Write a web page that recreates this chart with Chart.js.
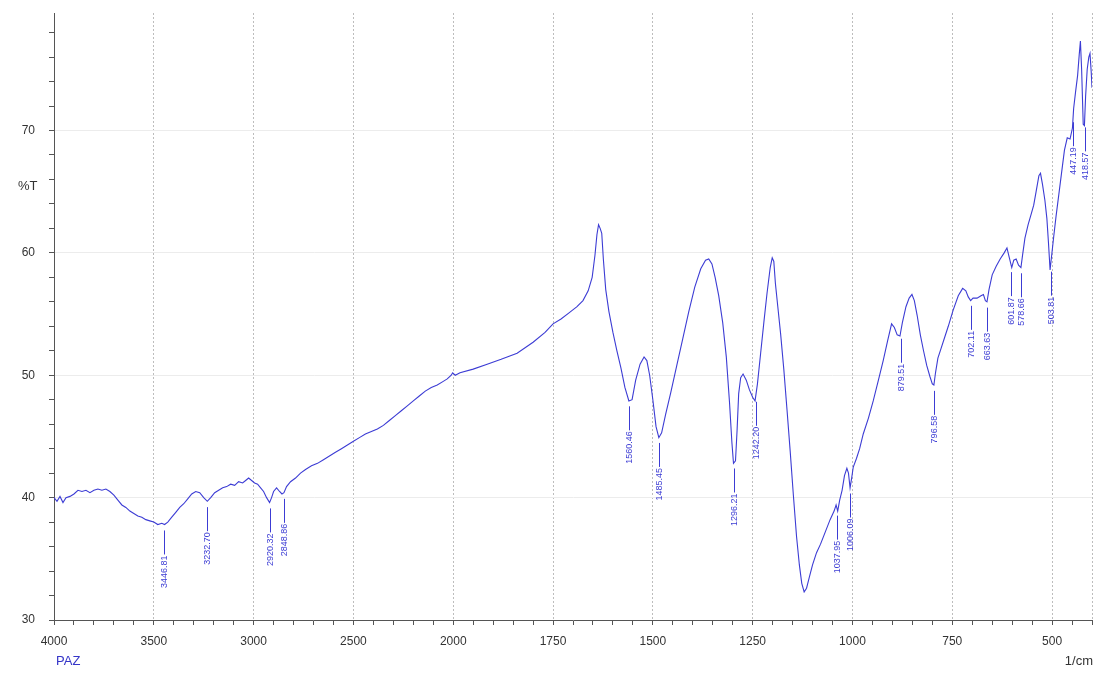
<!DOCTYPE html>
<html>
<head>
<meta charset="utf-8">
<script src="https://cdn.jsdelivr.net/npm/chart.js@4/dist/chart.umd.min.js"></script>
<style>
html,body{margin:0;padding:0;background:#fff;}
#wrap{width:1104px;height:677px;}
</style>
</head>
<body>
<div id="wrap"><canvas id="c" width="1104" height="677"></canvas></div>
<script>
// Wavenumbers (1/cm) and transmittance (%T)
const wavenumbers = [4000,3985,3970,3955,3940,3920,3900,3880,3860,3840,3820,3800,3780,3760,3740,3720,3700,3680,3660,3640,3620,3600,3580,3560,3540,3520,3500,3480,3460,3446,3430,3410,3390,3370,3350,3330,3310,3290,3270,3250,3232,3215,3195,3175,3155,3135,3115,3095,3075,3055,3040,3025,3010,2995,2980,2965,2950,2935,2920,2910,2900,2885,2870,2858,2848,2835,2815,2790,2765,2740,2710,2680,2650,2620,2590,2560,2530,2500,2470,2440,2410,2380,2350,2320,2290,2260,2230,2200,2170,2140,2110,2080,2050,2030,2010,2003,1995,1983,1950,1915,1880,1840,1800,1770,1750,1730,1710,1690,1675,1662,1652,1645,1640,1636,1632,1628,1624,1618,1610,1600,1590,1580,1570,1560,1552,1543,1532,1522,1515,1508,1500,1492,1485,1478,1468,1455,1440,1425,1410,1395,1380,1368,1360,1352,1344,1335,1325,1316,1308,1302,1298,1293,1289,1285,1280,1274,1266,1258,1250,1244,1238,1230,1222,1214,1206,1201,1197,1193,1187,1180,1172,1164,1156,1148,1140,1133,1127,1121,1115,1108,1100,1090,1080,1068,1056,1046,1041,1037,1032,1026,1020,1014,1010,1006,1002,998,990,982,973,960,948,935,923,912,902,895,888,881,875,866,858,851,845,838,830,822,814,806,800,796,792,786,778,770,760,748,735,724,716,710,704,698,688,678,672,667,663,658,650,640,630,620,613,607,601,596,590,584,578,574,568,560,552,546,540,533,529,524,518,513,509,505,501,496,490,483,476,469,462,455,449,446,441,436,432,429,426,422,419,416,412,408,405,402,400];
const transmittance = [40.0,39.7,40.1,39.6,40.0,40.1,40.3,40.6,40.5,40.6,40.4,40.6,40.7,40.6,40.7,40.5,40.2,39.8,39.4,39.2,38.9,38.7,38.5,38.4,38.2,38.1,38.0,37.8,37.9,37.8,38.0,38.4,38.8,39.2,39.5,39.9,40.3,40.5,40.4,40.0,39.7,40.0,40.4,40.6,40.8,40.9,41.1,41.0,41.3,41.2,41.4,41.6,41.4,41.2,41.1,40.8,40.5,40.0,39.6,40.0,40.5,40.8,40.5,40.3,40.4,40.9,41.3,41.6,42.0,42.3,42.6,42.8,43.1,43.4,43.7,44.0,44.3,44.6,44.9,45.2,45.4,45.6,45.9,46.3,46.7,47.1,47.5,47.9,48.3,48.7,49.0,49.2,49.5,49.7,50.0,50.2,50.0,50.2,50.5,50.9,51.3,51.8,52.7,53.5,54.2,54.6,55.1,55.6,56.1,56.9,58.0,59.8,61.5,62.3,62.0,61.6,59.5,57.0,55.2,53.5,52.0,50.6,49.0,47.9,48.0,49.6,50.9,51.5,51.2,50.0,48.0,45.8,44.9,45.3,46.8,48.6,50.8,53.0,55.2,57.2,58.7,59.4,59.5,59.1,58.0,56.5,54.3,51.5,47.8,44.5,42.8,43.0,45.5,48.5,49.8,50.1,49.6,48.8,48.2,47.9,49.3,51.8,54.3,56.7,58.8,59.6,59.3,57.5,55.6,53.4,50.5,47.2,43.8,40.2,36.8,34.5,33.0,32.3,32.6,33.5,34.5,35.5,36.2,37.2,38.2,38.9,39.4,38.9,39.8,40.6,41.8,42.4,42.0,40.8,41.6,42.5,43.2,44.0,45.2,46.5,47.9,49.6,51.2,52.8,54.2,53.9,53.3,53.2,54.3,55.6,56.3,56.6,56.1,54.9,53.3,52.0,50.8,49.9,49.3,49.2,50.2,51.4,52.2,53.0,54.0,55.3,56.5,57.1,56.9,56.4,56.1,56.3,56.3,56.5,56.6,56.1,56.0,57.0,58.2,58.9,59.5,60.0,60.4,59.6,58.8,59.4,59.5,59.0,58.8,59.8,61.2,62.3,63.2,63.9,65.0,66.3,66.5,65.6,64.3,62.8,60.8,58.6,59.8,61.3,63.0,64.8,66.6,68.4,69.4,69.3,70.2,71.8,73.2,74.5,76.2,77.3,75.0,70.5,70.4,72.8,75.0,76.0,76.3,74.8,73.5];

const xTickLabels = ['4000','3500','3000','2500','2000','1750','1500','1250','1000','750','500'];
const yTickLabels = ['30','40','50','60','70'];

const peakWavenumbers = [3446.81,3232.70,2920.32,2848.86,1560.46,1485.45,1296.21,1242.20,1037.95,1006.09,879.51,796.58,702.11,663.63,601.87,578.66,503.81,447.19,418.57];
const peakLabels = ['3446.81','3232.70','2920.32','2848.86','1560.46','1485.45','1296.21','1242.20','1037.95','1006.09','879.51','796.58','702.11','663.63','601.87','578.66','503.81','447.19','418.57'];

// Instrument axis: 4000-2000 at 500 per division, 2000-400 at 250 per division
function toAxis(w){ return w >= 2000 ? (4000 - w) / 500 : 4 + (2000 - w) / 250; }
function interpT(w){
  for (let i = 0; i < wavenumbers.length - 1; i++){
    const a = wavenumbers[i], b = wavenumbers[i+1];
    if (w <= a && w >= b){
      const t = (a - w) / (a - b);
      return transmittance[i] + t * (transmittance[i+1] - transmittance[i]);
    }
  }
  return transmittance[transmittance.length-1];
}

const points = wavenumbers.map((w,i)=>({x: toAxis(w), y: transmittance[i]}));
const AXIS_MAX = toAxis(400);
const FONT = '"Liberation Sans Narrow","Arial Narrow","Liberation Sans",Arial,sans-serif';
const LINE = '#3c3cd4';

const isInt = v => Math.abs(v - Math.round(v)) < 1e-6;

const peakPlugin = {
  id: 'peaks',
  afterDatasetsDraw(chart){
    const ctx = chart.ctx, xs = chart.scales.x, ys = chart.scales.y;
    ctx.save();
    ctx.strokeStyle = LINE;
    ctx.fillStyle = LINE;
    ctx.lineWidth = 1;
    ctx.font = '9px ' + FONT;
    peakWavenumbers.forEach((w,i)=>{
      const px = Math.round(xs.getPixelForValue(toAxis(w))) + 0.5;
      const py = ys.getPixelForValue(interpT(w));
      const y0 = py + 6, y1 = py + 30;
      ctx.beginPath(); ctx.moveTo(px, y0); ctx.lineTo(px, y1); ctx.stroke();
      ctx.save();
      ctx.translate(px, y1 + 1);
      ctx.rotate(-Math.PI/2);
      ctx.textAlign = 'right';
      ctx.textBaseline = 'middle';
      ctx.fillText(peakLabels[i], 0, 0);
      ctx.restore();
    });
    ctx.restore();
  },
  afterDraw(chart){
    const ctx = chart.ctx, xs = chart.scales.x, ys = chart.scales.y;
    ctx.save();
    ctx.font = '13px ' + FONT;
    ctx.fillStyle = '#333';
    ctx.textAlign = 'left';
    ctx.textBaseline = 'middle';
    ctx.fillText('%T', 18, ys.getPixelForValue(65.4));
    ctx.textAlign = 'right';
    ctx.fillText('1/cm', chart.chartArea.right + 1, 661);
    ctx.fillStyle = '#3535c8';
    ctx.textAlign = 'left';
    ctx.fillText('PAZ', xs.getPixelForValue(0) + 2, 661);
    ctx.restore();
  }
};

new Chart(document.getElementById('c'), {
  type: 'line',
  data: { datasets: [{
    data: points,
    borderColor: LINE,
    borderWidth: 1.1,
    pointRadius: 0,
    tension: 0,
    fill: false
  }]},
  options: {
    responsive: false,
    animation: false,
    layout: { padding: { top: 13, right: 12, left: 0, bottom: 0 } },
    plugins: { legend: { display: false }, tooltip: { enabled: false } },
    scales: {
      x: {
        type: 'linear',
        min: 0, max: AXIS_MAX,
        afterBuildTicks(s){
          const t = [];
          for (let k = 0; k <= 52; k++) t.push({ value: k * 0.2 });
          s.ticks = t;
        },
        afterFit(s){ s.height = 57; s.paddingLeft = 0; s.paddingRight = 0; },
        grid: {
          drawOnChartArea: true,
          color: c => (c.tick && (isInt(c.tick.value) || Math.abs(c.tick.value - AXIS_MAX) < 1e-6) && c.tick.value > 0) ? '#bdbdbd' : 'rgba(0,0,0,0)',
          tickColor: '#555',
          tickLength: 5,
          lineWidth: 1
        },
        border: { display: true, color: '#555', width: 1, dash: [2,2] },
        ticks: {
          autoSkip: false, maxRotation: 0, minRotation: 0, padding: 9,
          color: '#333',
          font: { family: FONT, size: 12 },
          callback: v => { const r = Math.round(v); return (isInt(v) && r < xTickLabels.length) ? xTickLabels[r] : ''; }
        }
      },
      y: {
        type: 'linear',
        min: 30, max: 79.6,
        afterBuildTicks(s){
          const t = [];
          for (let v = 30; v <= 78; v += 2) t.push({ value: v });
          s.ticks = t;
        },
        afterFit(s){ s.width = 54; s.paddingTop = 0; s.paddingBottom = 0; },
        grid: {
          color: c => (c.tick && c.tick.value % 10 === 0 && c.tick.value > 30) ? '#ececec' : 'rgba(0,0,0,0)',
          tickColor: '#555',
          tickLength: 5,
          lineWidth: 1
        },
        border: { display: true, color: '#555', width: 1 },
        ticks: {
          autoSkip: false, padding: 14,
          color: '#333',
          font: { family: FONT, size: 12 },
          callback: v => yTickLabels.includes(String(v)) ? String(v) : ''
        }
      }
    }
  },
  plugins: [peakPlugin]
});
</script>
</body>
</html>
